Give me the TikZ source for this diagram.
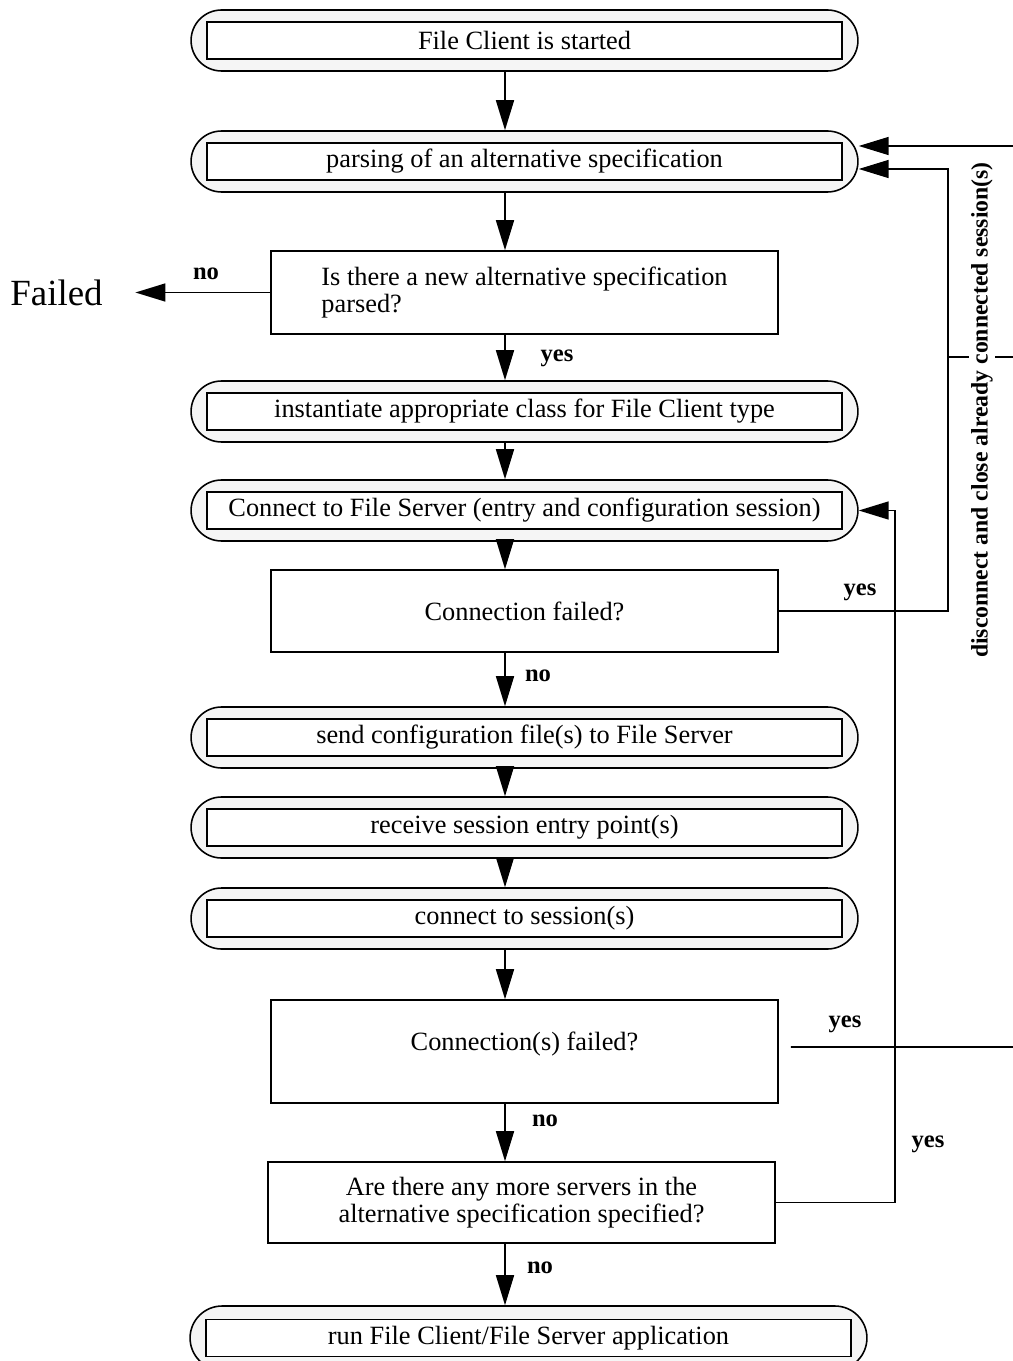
\documentclass[tikz,border=0pt]{standalone}
\usepackage{fontspec}
\setmainfont{Liberation Serif}
\usetikzlibrary{arrows.meta}
\newcommand\boxfont{\fontsize{15}{15.3}\selectfont}
\newcommand\lblfont{\fontsize{14}{16}\selectfont\bfseries}
\newcommand\sidefont{\fontsize{13.5}{15}\selectfont\bfseries}
\newcommand\bigfont{\fontsize{21}{24}\selectfont}

\begin{document}
\begin{tikzpicture}[x=0.02cm,y=-0.02cm,
  line width=0.9pt,
  flow/.style={-{Triangle[length=0.6cm,width=0.36cm]}},
  capsule/.style={draw, fill=black!4, rounded corners=0.61cm,
    minimum width=13.34cm, minimum height=1.22cm, inner sep=0pt},
  stepinner/.style={draw, fill=white, minimum width=12.7cm,
    minimum height=0.74cm, inner sep=0pt, font=\boxfont},
  query/.style={draw, fill=white, minimum width=10.14cm,
    inner sep=0pt, font=\boxfont},
  tag/.style={font=\lblfont, inner sep=0pt},
]
\useasboundingbox (0,0) rectangle (1013,1361);

% process steps: rounded outer frame with an inner text box
\node[capsule] (b1) at (524.5,40.5) {};
\node[stepinner] (b1t) at (b1) {File Client is started};
\node[capsule] (b2) at (524.5,161.5) {};
\node[stepinner] (b2t) at (b2) {parsing of an alternative specification};
\node[capsule] (b3) at (524.5,411.5) {};
\node[stepinner] (b3t) at (b3) {instantiate appropriate class for File Client type};
\node[capsule] (b4) at (524.5,510.5) {};
\node[stepinner] (b4t) at (b4) {Connect to File Server (entry and configuration session)};
\node[capsule] (b5) at (524.5,737.5) {};
\node[stepinner] (b5t) at (b5) {send configuration file(s) to File Server};
\node[capsule] (b6) at (524.5,827.5) {};
\node[stepinner] (b6t) at (b6) {receive session entry point(s)};
\node[capsule] (b7) at (524.5,918.5) {};
\node[stepinner] (b7t) at (b7) {connect to session(s)};
\node[capsule, minimum width=13.54cm, minimum height=1.28cm,
  rounded corners=0.64cm] (b8) at (528.5,1338) {};
\node[stepinner, minimum width=12.9cm] (b8t) at (b8) {run File Client/File Server application};

% decisions
\node[query, minimum height=1.66cm, align=left] (q1) at (524.5,292.5)
  {Is there a new alternative specification\\parsed?};
\node[query, minimum height=1.64cm] (q2) at (524.5,611) {Connection failed?};
\node[query, minimum height=2.06cm] (q3) at (524.5,1051.5)
  {\raisebox{0.14cm}[\height][\depth]{Connection(s) failed?}};
\node[query, minimum height=1.62cm, align=center] (q4) at (521.5,1202.5)
  {Are there any more servers in the\\alternative specification specified?};

\node[font=\bigfont, inner sep=0pt] (failed) at (56.5,293) {Failed};

% main flow
\coordinate (col) at (505,0);
\draw[flow] (b1.south -| col) -- (b2.north -| col);
\draw[flow] (b2.south -| col) -- (q1.north -| col);
\draw[flow] (q1.south -| col) -- (b3.north -| col);
\draw[flow] (b3.south -| col) -- (b4.north -| col);
\draw[flow] (b4.south -| col) -- (q2.north -| col);
\draw[flow] (q2.south -| col) -- (b5.north -| col);
\draw[flow] (b5.south -| col) -- (b6.north -| col);
\draw[flow] (b6.south -| col) -- (b7.north -| col);
\draw[flow] (b7.south -| col) -- (q3.north -| col);
\draw[flow] (q3.south -| col) -- (q4.north -| col);
\draw[flow] (q4.south -| col) -- (b8.north -| col);

\draw[flow, shorten >=0.64cm] (q1.west) -- (q1.west -| failed.east);

% loops back on the right
\coordinate (ra) at (948,169);
\draw[flow] (q2.east) -| (ra) -- (ra -| b2.east);
\coordinate (rb) at (895,510.5);
\draw[flow] (q4.east) -| (rb) -- (b4.east);
\coordinate (edgeTop) at (1013,146);
\draw[flow] (edgeTop) -- (edgeTop -| b2.east);
\coordinate (rc) at (948,357);
\coordinate (edgeMid) at (1013,357);
\draw (rc) -- (edgeMid);
\coordinate (edgeLow) at (1013,1047);
\draw ([xshift=0.24cm,yshift=0.09cm]q3.east) -- (edgeLow);
\node[rotate=90, fill=white, font=\sidefont, inner sep=1.5pt] (side) at (982,410)
  {disconnect and close already connected session(s)};

% branch labels
\node[tag] (l1) at (206,274) {no};
\node[tag] (l2) at (557,358) {yes};
\node[tag] (l3) at (860,592) {yes};
\node[tag] (l4) at (538,676) {no};
\node[tag] (l5) at (845,1024) {yes};
\node[tag] (l6) at (545,1121) {no};
\node[tag] (l7) at (928,1144) {yes};
\node[tag] (l8) at (540,1268) {no};
\end{tikzpicture}
\end{document}
